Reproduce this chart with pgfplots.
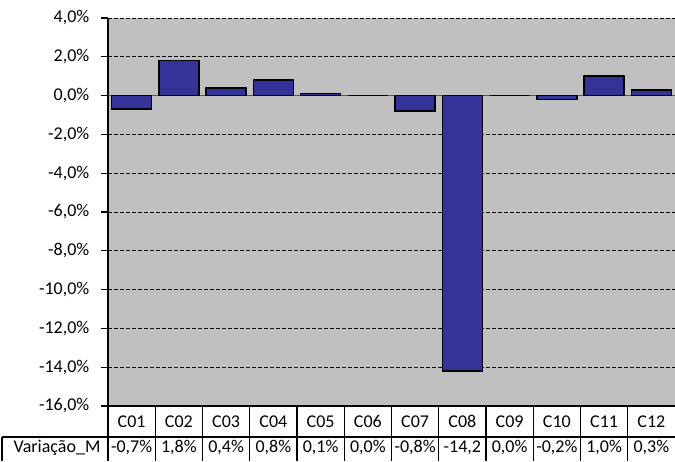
\documentclass[border=0pt]{standalone}
\usepackage{pgfplots}
\pgfplotsset{compat=1.18}
\usepackage{fontspec}
\setmainfont{Carlito}
\definecolor{plotbg}{RGB}{192,192,192}
\definecolor{barblue}{RGB}{51,51,153}
\definecolor{zeroline}{RGB}{90,90,90}
\newcommand\tfont{\fontsize{13.5}{16}\selectfont}
\begin{document}
\begin{tikzpicture}[x=0.75pt,y=0.75pt]
\useasboundingbox (0,0) rectangle (675,461);
\begin{axis}[
    at={(81pt,41.25pt)}, anchor=south west,
    scale only axis,
    width=425.25pt, height=291pt,
    xmin=-0.5, xmax=11.5,
    ymin=-16, ymax=4,
    ytick={-16,-14,-12,-10,-8,-6,-4,-2,0,2,4},
    xtick=\empty,
    axis x line*=middle,
    axis y line*=left,
    x axis line style={zeroline, line width=0.8pt},
    y axis line style={black, line width=1.5pt},
    tick align=outside,
    major tick length=5.5pt,
    ytick style={black, line width=0.8pt},
    ymajorgrids,
    grid style={black, line width=0.7pt, dash pattern=on 3pt off 1.5pt},
    axis background/.style={fill=plotbg},
    /pgf/number format/assume math mode=true,
    yticklabel={\pgfmathprintnumber[fixed,fixed zerofill,precision=1,use comma]{\tick}\%},
    tick label style={font=\tfont},
    yticklabel style={xshift=-5pt},
    ybar, bar width=30pt,
]
\addplot[fill=barblue, draw=black, line width=1.1pt] coordinates {
    (0,-0.7) (1,1.8) (2,0.4) (3,0.8) (4,0.1) (5,0.0)
    (6,-0.8) (7,-14.2) (8,0.0) (9,-0.2) (10,1.0) (11,0.3)
};
\end{axis}
% data table below the plot area
\begin{scope}[line width=1.1pt, black]
  \draw (108,55) -- (675,55);
  \draw (2,24) -- (675,24);
  \draw (2,0) -- (2,24);
  \foreach \k in {0,...,11} {
    \draw ({108+47.25*\k},0) -- ({108+47.25*\k},55);
  }
\end{scope}
\foreach \n/\v [count=\i from 0] in {C01/{-0,7\%},C02/{1,8\%},C03/{0,4\%},C04/{0,8\%},C05/{0,1\%},C06/{0,0\%},C07/{-0,8\%},C08/{-14,2},C09/{0,0\%},C10/{-0,2\%},C11/{1,0\%},C12/{0,3\%}} {
  \node[font=\tfont, inner sep=0pt] at ({108+47.25*(\i+0.5)},39.5) {\n};
  \node[font=\tfont, inner sep=0pt] at ({108+47.25*(\i+0.5)},13) {\v};
}
\node[font=\tfont, inner sep=0pt] at (57,13) {Variação\_M};
\end{tikzpicture}
\end{document}
